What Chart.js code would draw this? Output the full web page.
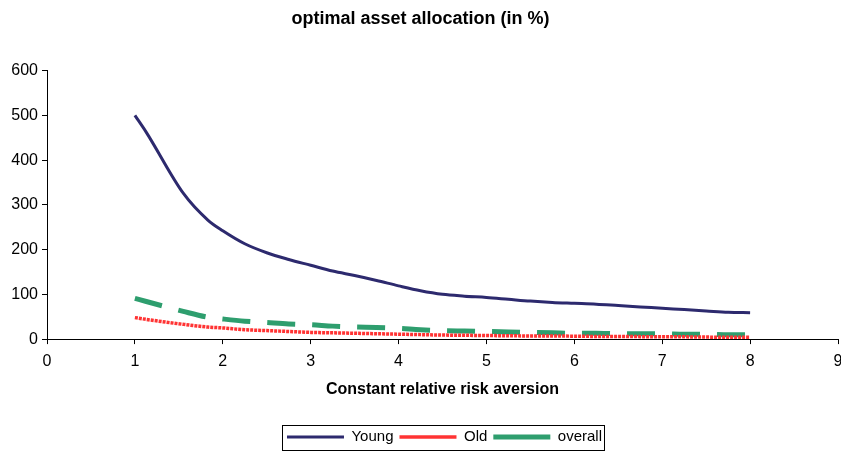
<!DOCTYPE html>
<html>
<head>
<meta charset="utf-8">
<script src="https://cdn.jsdelivr.net/npm/chart.js@4.4.1/dist/chart.umd.min.js"></script>
<style>
  html, body { margin: 0; padding: 0; background: #fff; }
  #wrap { width: 841px; height: 452px; }
</style>
</head>
<body>
<div id="wrap"><canvas id="myChart"></canvas></div>
<script>
// relative risk aversion (x) and allocations in %
const riskAversion = [1, 1.13, 1.55, 1.83, 2, 2.25, 2.5, 2.75, 3, 3.25, 3.5, 3.75, 4, 4.25, 4.5, 4.75,
    5, 5.25, 5.5, 5.75, 6, 6.25, 6.5, 6.75, 7, 7.25, 7.5, 7.75, 8];
const young = [500, 462, 326, 266, 242, 213, 193, 178, 165, 152, 142, 131, 119, 108, 100, 96,
    93, 89, 85, 82, 80, 78, 75, 72, 69, 66, 63, 60, 59];
const old = [48, 44, 33, 27, 25, 21, 19, 17, 15, 14, 13, 12, 11, 10, 9, 8.5,
    8, 7.5, 7, 7, 6.5, 6, 6, 5.5, 5, 5, 4.5, 4, 4];
const overall = [91, 84, 62, 49, 45, 40, 37, 34, 32, 29, 27, 26, 24, 21, 19, 18,
    17, 16, 15, 14, 13, 13, 12, 12, 12, 11, 11, 10, 10];
const xTicks = [0, 1, 2, 3, 4, 5, 6, 7, 8, 9];
const yTicks = [0, 100, 200, 300, 400, 500, 600];

function toPoints(values) {
    return values.map((v, i) => ({ x: riskAversion[i], y: v }));
}

const FONT = '"Liberation Sans", Arial, sans-serif';
const LEGEND_SHIFT = 24;

// legend sits a bit right of centre in the original, and has a frame
const legendBox = {
    id: 'legendBox',
    afterLayout(chart) {
        chart.legend.left += LEGEND_SHIFT;
        chart.legend.right += LEGEND_SHIFT;
    },
    afterDraw(chart) {
        const boxes = chart.legend.legendHitBoxes;
        if (!boxes || !boxes.length) return;
        // hit boxes are already moved with the legend
        let left = Math.min(...boxes.map(b => b.left)) - 5;
        let right = Math.max(...boxes.map(b => b.left + b.width)) + 2;
        let top = Math.min(...boxes.map(b => b.top)) - 5;
        let bottom = Math.max(...boxes.map(b => b.top + b.height)) + 5;
        const ctx = chart.ctx;
        ctx.save();
        ctx.strokeStyle = '#000';
        ctx.lineWidth = 1;
        ctx.setLineDash([]);
        ctx.strokeRect(Math.round(left) + 0.5, Math.round(top) + 0.5, Math.round(right - left), Math.round(bottom - top));
        ctx.restore();
    }
};

const config = {
    type: 'scatter',
    data: {
        datasets: [{
            label: 'Young',
            data: toPoints(young),
            showLine: true,
            borderColor: '#2d2a6e',
            backgroundColor: '#2d2a6e',
            borderWidth: 3,
            pointRadius: 0,
            cubicInterpolationMode: 'monotone',
        }, {
            label: 'Old',
            data: toPoints(old),
            showLine: true,
            borderColor: '#ff3333',
            backgroundColor: '#ff3333',
            borderWidth: 3.5,
            borderDash: [3, 1],
            pointRadius: 0,
            cubicInterpolationMode: 'monotone',
        }, {
            label: 'overall',
            data: toPoints(overall),
            showLine: true,
            borderColor: '#2e9e6e',
            backgroundColor: '#2e9e6e',
            borderWidth: 5,
            borderDash: [28, 17],
            pointRadius: 0,
            cubicInterpolationMode: 'monotone',
        }]
    },
    options: {
        animation: false,
        responsive: true,
        maintainAspectRatio: false,
        layout: { padding: { left: 0, right: 0, top: 4, bottom: -2.5 } },
        plugins: {
            title: {
                display: true,
                text: 'optimal asset allocation (in %)',
                color: '#000',
                font: { family: FONT, size: 18, weight: 'bold' },
                padding: { top: 4, bottom: 41 }
            },
            legend: {
                position: 'bottom',
                labels: {
                    color: '#000',
                    font: { family: FONT, size: 15 },
                    usePointStyle: true,
                    pointStyle: 'line',
                    pointStyleWidth: 57,
                    boxHeight: 10,
                    padding: 6
                }
            },
            tooltip: { enabled: false }
        },
        scales: {
            x: {
                type: 'linear',
                min: 0,
                max: 9,
                afterBuildTicks: (axis) => { axis.ticks = xTicks.map(v => ({ value: v })); },
                afterFit: (axis) => { axis.paddingRight = 3; },
                ticks: { color: '#000', font: { family: FONT, size: 16 }, padding: 8 },
                grid: { drawOnChartArea: false, drawTicks: true, tickLength: 5, color: '#000' },
                border: { display: true, color: '#000' },
                title: {
                    display: true,
                    text: 'Constant relative risk aversion',
                    color: '#000',
                    font: { family: FONT, size: 16, weight: 'bold' },
                    padding: { top: 1, bottom: 24 }
                }
            },
            y: {
                min: 0,
                max: 600,
                afterBuildTicks: (axis) => { axis.ticks = yTicks.map(v => ({ value: v })); },
                afterFit: (axis) => { axis.width = 47; },
                ticks: { color: '#000', font: { family: FONT, size: 16 }, padding: 4 },
                grid: { drawOnChartArea: false, drawTicks: true, tickLength: 5, color: '#000' },
                border: { display: true, color: '#000' }
            }
        }
    },
    plugins: [legendBox]
};

const myChart = new Chart(document.getElementById('myChart'), config);
</script>
</body>
</html>
